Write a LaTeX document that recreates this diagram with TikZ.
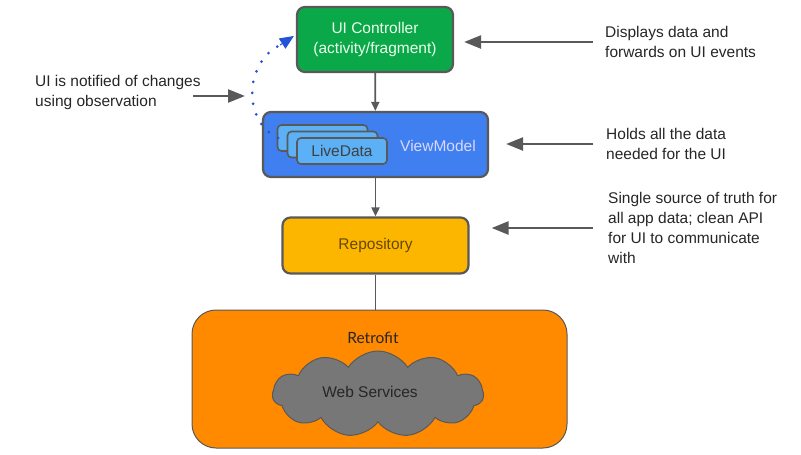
\documentclass[tikz,border=0pt]{standalone}
\usepackage{fontspec}
\setmainfont{Liberation Sans}
\newfontfamily\latofont{Lato}
\usetikzlibrary{arrows.meta,shapes.symbols}
\definecolor{edgegray}{HTML}{595959}
\definecolor{uigreen}{HTML}{0BA84A}
\definecolor{vmblue}{HTML}{3F7FEF}
\definecolor{ldblue}{HTML}{5CB0F5}
\definecolor{repoamber}{HTML}{FDB600}
\definecolor{retroorange}{HTML}{FF8A00}
\definecolor{cloudgray}{HTML}{777777}
\definecolor{dotblue}{HTML}{2353D6}
\tikzset{
  layer/.style={draw=edgegray, line width=2.2pt, rounded corners=8pt, align=center},
  livecard/.style={draw=edgegray, line width=1.6pt, fill=ldblue, rounded corners=4pt,
    minimum width=90pt, minimum height=26pt, inner sep=0pt},
  note/.style={anchor=west, align=left, text=black!85, inner sep=0pt},
  ptr/.style={draw=edgegray, line width=2.4pt, -{Triangle[length=17pt,width=13pt]}},
  link/.style={draw=edgegray, line width=1.8pt}
}
\begin{document}
\begin{tikzpicture}[x=1pt, y=-1pt, font=\fontsize{15.5}{20}\selectfont]
\useasboundingbox (0,0) rectangle (801,455);
% layers
\node[layer, fill=uigreen, text=white!92!green, minimum width=156pt, minimum height=65pt] (ui) at (375,39.5) {UI Controller\\(activity/fragment)};
\node[layer, fill=vmblue, minimum width=225pt, minimum height=65pt] (vm) at (375.5,144.5) {};
\node[layer, fill=repoamber, text=black!60!repoamber, minimum width=186pt, minimum height=56pt] (repo) at (375.5,245.5) {Repository};
\node[draw=edgegray, line width=1pt, fill=retroorange, rounded corners=24pt, minimum width=375pt, minimum height=138pt] (retro) at (379.5,379) {};
\node[font=\latofont\fontsize{15.5}{20}\selectfont, text=black!85] (retrolbl) at (373,338) {Retrofit};
\node[cloud, cloud puffs=11, cloud puff arc=115, aspect=2.6, draw=black!65, line width=1pt, fill=cloudgray, minimum width=211pt, minimum height=86pt] (web) at (378,394) {};
\node[text=black!85] (weblbl) at (370,392) {Web Services};
% live data stack
\node[livecard] (ld3) at (322.5,138) {};
\node[livecard] (ld2) at (332.5,144.5) {};
\node[livecard] (ld1) at (342,151) {\color{black!75}LiveData};
\node[text=white!85!blue] (vmlbl) at (438,146) {ViewModel};
% notes
\node[note] (noteui) at (605,42) {Displays data and\\forwards on UI events};
\node[note] (notevm) at (606,144) {Holds all the data\\needed for the UI};
\node[note] (noterepo) at (608,228) {Single source of truth for\\all app data; clean API\\for UI to communicate\\with};
\node[note] (noteobs) at (35,92) {UI is notified of changes\\using observation};
\coordinate (obstail) at (193,96);
\coordinate (obstip) at (245,96);
\coordinate (dotstart) at (278,138);
% connectors
\draw[link, -{Triangle[length=9pt,width=8pt]}] (ui) -- (vm);
\draw[link, -{Triangle[length=9pt,width=8pt]}] (vm) -- (repo);
\draw[link] (repo) -- (repo |- retro.north);
\draw[ptr, shorten <=12pt] (noteui.west) -- ([xshift=10pt]noteui.west -| ui.east);
\draw[ptr, shorten <=13pt] (notevm.west) -- ([xshift=17pt]notevm.west -| vm.east);
\draw[ptr, shorten <=15pt] (noterepo.west) -- ([xshift=22pt]noterepo.west -| repo.east);
\draw[ptr] (obstail) -- (obstip);
\draw[dotblue, line width=3pt, line cap=round, dash pattern=on 0pt off 11pt] (dotstart) .. controls (243,122) and (243,62) .. (282,44);
\draw[dotblue, line width=1pt, -{Triangle[length=14pt,width=12pt]}] (280,45) -- ([xshift=-2pt,yshift=2pt]ui.west |- 0,38);
\end{tikzpicture}
\end{document}
